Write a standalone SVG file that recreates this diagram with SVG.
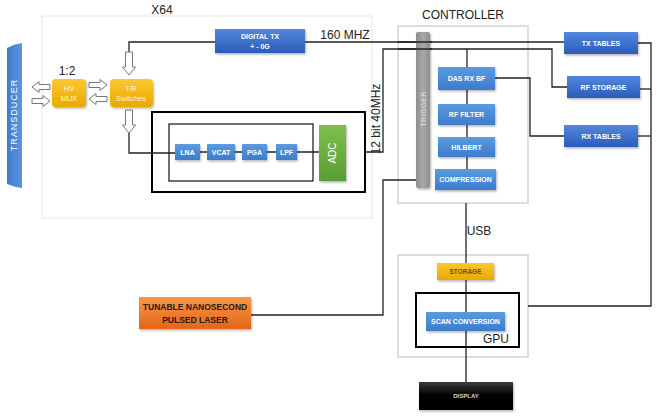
<svg xmlns="http://www.w3.org/2000/svg" width="657" height="419" viewBox="0 0 657 419">
<defs>
<linearGradient id="gBlue" x1="0" y1="0" x2="0" y2="1"><stop offset="0" stop-color="#5288dc"/><stop offset="1" stop-color="#2c5cb9"/></linearGradient>
<linearGradient id="gLBlue" x1="0" y1="0" x2="0" y2="1"><stop offset="0" stop-color="#5b9be0"/><stop offset="1" stop-color="#3c7ccc"/></linearGradient>
<linearGradient id="gYel" x1="0" y1="0" x2="0" y2="1"><stop offset="0" stop-color="#fbc832"/><stop offset="1" stop-color="#eaa800"/></linearGradient>
<linearGradient id="gOr" x1="0" y1="0" x2="0" y2="1"><stop offset="0" stop-color="#f89648"/><stop offset="1" stop-color="#e2661a"/></linearGradient>
<linearGradient id="gGreen" x1="0" y1="0" x2="0" y2="1"><stop offset="0" stop-color="#7cc04c"/><stop offset="1" stop-color="#5a9d33"/></linearGradient>
<linearGradient id="gBlack" x1="0" y1="0" x2="0" y2="1"><stop offset="0" stop-color="#3a3a3a"/><stop offset="0.5" stop-color="#000"/><stop offset="1" stop-color="#000"/></linearGradient>
<linearGradient id="gGray" x1="0" y1="0" x2="1" y2="0"><stop offset="0" stop-color="#8e8e8e"/><stop offset="0.5" stop-color="#a8a8a8"/><stop offset="1" stop-color="#8e8e8e"/></linearGradient>
<linearGradient id="gTr" x1="0" y1="0" x2="1" y2="0"><stop offset="0" stop-color="#3f7ccf"/><stop offset="1" stop-color="#5b95e0"/></linearGradient>
<filter id="sh" x="-10%" y="-10%" width="130%" height="140%"><feDropShadow dx="1" dy="1.5" stdDeviation="1" flood-color="#000" flood-opacity="0.3"/></filter>
<path id="arR" d="M0,-2.5 H11 V-5.5 L18,0 L11,5.5 V2.5 H0 Z"/>
<path id="arD" d="M-3.5,0 V15 H-6.5 L0,23 L6.5,15 H3.5 V0 Z"/>
<style>
.ln{fill:none;stroke:#222;stroke-width:1.3}
.arr{fill:#fff;stroke:#777;stroke-width:1}
.lg{fill:none;stroke:#ddd;stroke-width:2}
.bk{fill:none;stroke:#000;stroke-width:2}
.t{font-family:"Liberation Sans",Arial,sans-serif;text-anchor:middle}
.w{fill:#fff;font-weight:bold;font-size:7px}
.h{fill:#222;font-size:12px}
</style>
</defs>

<rect width="657" height="419" fill="#fff"/>

<g id="frames">
<rect x="42" y="16" width="330" height="202" fill="none" stroke="#e6e6e6" stroke-width="1"/>
<rect x="398" y="26" width="130" height="177" class="lg"/>
<rect x="398" y="255" width="130" height="102" class="lg"/>
<rect x="152" y="112" width="213" height="80" class="bk"/>
<rect x="169" y="124" width="144" height="57" fill="none" stroke="#111" stroke-width="1.2"/>
<rect x="416" y="293" width="103" height="54" class="bk"/>
<text class="t h" x="162" y="14">X64</text>
<text class="t h" x="463" y="19">CONTROLLER</text>
<text class="t h" x="345" y="39">160 MHZ</text>
<text class="t h" x="479" y="235" font-size="11">USB</text>
<text class="t h" x="496" y="343" font-size="11">GPU</text>
<text class="t h" x="67" y="75" font-size="11">1:2</text>
<text class="t h" transform="translate(380,119) rotate(-90)" font-size="10">12 bit 40MHz</text>
</g>

<g id="connectors">
<polyline class="ln" points="129,52 129,42 215,42"/>
<line class="ln" x1="305" y1="42" x2="564" y2="42"/>
<polyline class="ln" points="365,152 383,152 383,49 552,49 552,87 567,87"/>
<line class="ln" x1="467" y1="49" x2="467" y2="67"/>
<line class="ln" x1="467" y1="90" x2="467" y2="169"/>
<polyline class="ln" points="495,78 530,78 530,136 564,136"/>
<polyline class="ln" points="638,43 651,43 651,306 528,306"/>
<line class="ln" x1="640" y1="89" x2="651" y2="89"/>
<line class="ln" x1="638" y1="136" x2="651" y2="136"/>
<polyline class="ln" points="251,315 383,315 383,180 416,180"/>
<polyline class="ln" points="129,133 129,153 175,153"/>
<line class="ln" x1="200" y1="152" x2="319" y2="152"/>
<line class="ln" x1="466" y1="203" x2="466" y2="382"/>
<use href="#arD" class="arr" x="129" y="52"/>
<use href="#arD" class="arr" x="129" y="110"/>
<use href="#arR" class="arr" transform="translate(50,87) scale(-1,1)"/>
<use href="#arR" class="arr" transform="translate(32,101)"/>
<use href="#arR" class="arr" transform="translate(89,85)"/>
<use href="#arR" class="arr" transform="translate(107,99) scale(-1,1)"/>
</g>

<g id="transducer">
<path d="M7,48 Q14,44 22,43 L22,188 Q14,187 7,184 Z" fill="url(#gTr)"/>
<text class="t" transform="translate(17,115) rotate(-90)" font-size="9" fill="#fff" letter-spacing="1">TRANSDUCER</text>
</g>

<g id="hvmux">
<rect x="52" y="79" width="34" height="28" rx="4" fill="url(#gYel)" filter="url(#sh)"/>
<text class="t" x="69" y="91" font-size="7.5" fill="#fff6d8">HV</text>
<text class="t" x="69" y="101" font-size="7.5" fill="#fff6d8">MUX</text>
</g>

<g id="trswitch">
<rect x="110" y="79" width="43" height="28" rx="4" fill="url(#gYel)" filter="url(#sh)"/>
<text class="t" x="131" y="91" font-size="7.5" fill="#fff6d8">T/R</text>
<text class="t" x="131" y="101" font-size="7.5" fill="#fff6d8">Switches</text>
</g>

<g id="digitaltx">
<rect x="215" y="29" width="90" height="24" fill="url(#gBlue)" filter="url(#sh)"/>
<text class="t w" x="260" y="39">DIGITAL TX</text>
<text class="t w" x="260" y="49">+ - 0G</text>
</g>

<g id="lna"><rect x="175" y="144" width="25" height="16" fill="url(#gLBlue)" filter="url(#sh)"/><text class="t w" x="187.5" y="154.5" font-size="6">LNA</text></g>
<g id="vcat"><rect x="207" y="144" width="28" height="16" fill="url(#gLBlue)" filter="url(#sh)"/><text class="t w" x="221" y="154.5" font-size="6">VCAT</text></g>
<g id="pga"><rect x="242" y="144" width="25" height="16" fill="url(#gLBlue)" filter="url(#sh)"/><text class="t w" x="254.5" y="154.5" font-size="6">PGA</text></g>
<g id="lpf"><rect x="276" y="144" width="21" height="16" fill="url(#gLBlue)" filter="url(#sh)"/><text class="t w" x="286.5" y="154.5" font-size="6">LPF</text></g>

<g id="adc">
<rect x="319" y="125" width="27" height="56" fill="url(#gGreen)" filter="url(#sh)"/>
<text class="t" transform="translate(336,153) rotate(-90)" font-size="10" fill="#fff">ADC</text>
</g>

<g id="trigger">
<rect x="416" y="32" width="14" height="156" rx="2" fill="url(#gGray)" filter="url(#sh)"/>
<text class="t" transform="translate(426,109) rotate(-90)" font-size="7" fill="#e6e6e6" letter-spacing="0.5">TRIGGER</text>
</g>
<line class="ln" x1="398" y1="42" x2="432" y2="42"/>
<line class="ln" x1="398" y1="49" x2="432" y2="49"/>

<g id="dasrxbf"><rect x="438" y="67" width="57" height="23" fill="url(#gLBlue)" filter="url(#sh)"/><text class="t w" x="466.5" y="81">DAS RX BF</text></g>
<g id="rffilter"><rect x="438" y="104" width="57" height="21" fill="url(#gLBlue)" filter="url(#sh)"/><text class="t w" x="466.5" y="117">RF FILTER</text></g>
<g id="hilbert"><rect x="438" y="137" width="57" height="20" fill="url(#gLBlue)" filter="url(#sh)"/><text class="t w" x="466.5" y="149.5">HILBERT</text></g>
<g id="compression"><rect x="435" y="169" width="61" height="21" fill="url(#gLBlue)" filter="url(#sh)"/><text class="t w" x="465.5" y="182">COMPRESSION</text></g>

<g id="txtables"><rect x="564" y="32" width="74" height="22" fill="url(#gBlue)" filter="url(#sh)"/><text class="t w" x="601" y="45.5" font-size="7.5">TX  TABLES</text></g>
<g id="rfstorage"><rect x="567" y="76" width="73" height="22" fill="url(#gBlue)" filter="url(#sh)"/><text class="t w" x="603.5" y="89.5" font-size="7.5">RF  STORAGE</text></g>
<g id="rxtables"><rect x="564" y="125" width="74" height="22" fill="url(#gBlue)" filter="url(#sh)"/><text class="t w" x="601" y="138.5" font-size="7.5">RX  TABLES</text></g>

<g id="storage"><rect x="437" y="263" width="57" height="17" fill="url(#gYel)" filter="url(#sh)"/><text class="t" x="465.5" y="274" font-size="6.5" fill="#7a4a00" font-weight="bold">STORAGE</text></g>
<g id="scanconversion"><rect x="426" y="312" width="79" height="19" fill="url(#gLBlue)" filter="url(#sh)"/><text class="t w" x="465.5" y="324">SCAN CONVERSION</text></g>
<g id="display"><rect x="419" y="382" width="94" height="28" fill="url(#gBlack)" filter="url(#sh)"/><text class="t" x="466" y="398" font-size="6" fill="#ddd" font-weight="bold">DISPLAY</text></g>

<g id="laser">
<rect x="139" y="297" width="112" height="32" fill="url(#gOr)" filter="url(#sh)"/>
<text class="t" x="195" y="310" font-size="8.5" font-weight="bold" fill="#2a1a10">TUNABLE NANOSECOND</text>
<text class="t" x="195" y="323" font-size="8.5" font-weight="bold" fill="#2a1a10">PULSED LASER</text>
</g>
</svg>
